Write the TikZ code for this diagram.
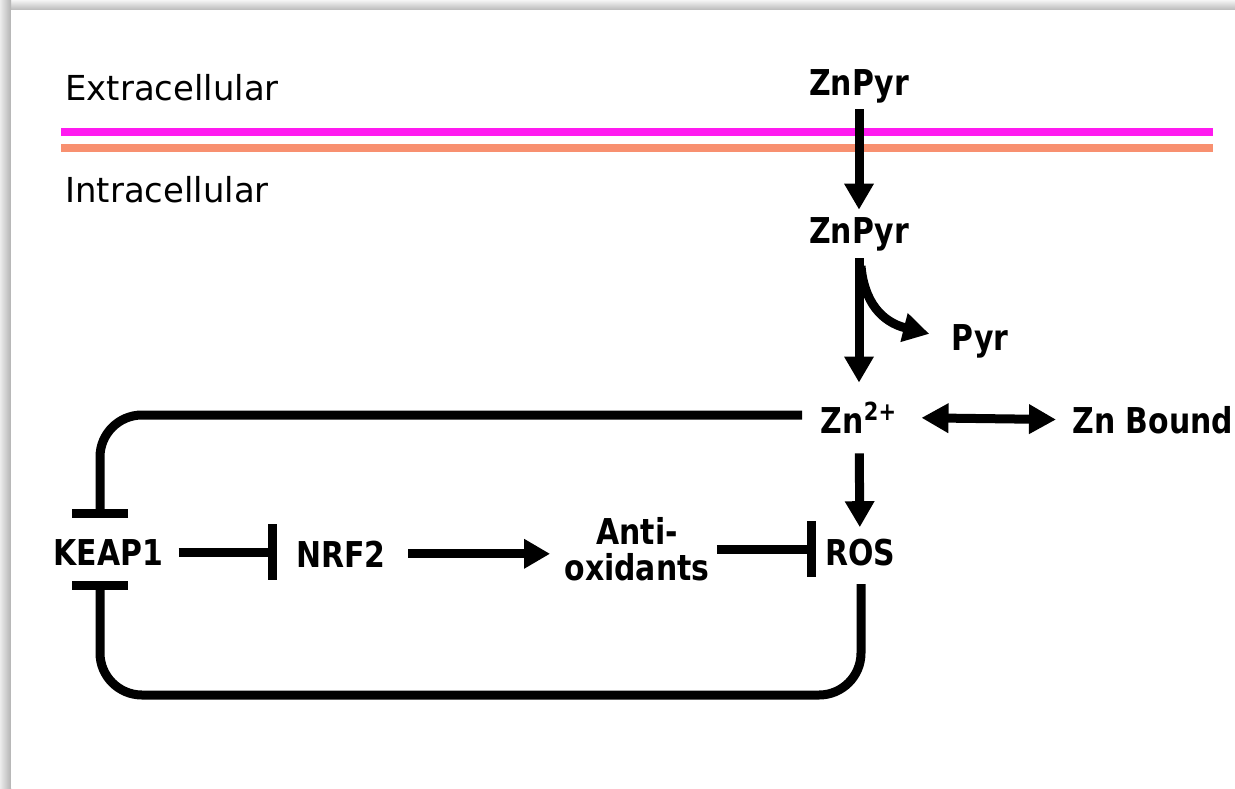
\documentclass[tikz,border=0pt]{standalone}
\usepackage{fontspec}
\setmainfont{DejaVu Sans}[FakeStretch=0.985, BoldFeatures={FakeStretch=0.84}]
\usetikzlibrary{arrows.meta,calc}
\definecolor{memA}{RGB}{255,26,240}
\definecolor{memB}{RGB}{248,144,112}
\begin{document}
\begin{tikzpicture}[x=0.5pt,y=-0.5pt,
  lbl/.style={font=\fontsize{17.2}{18}\selectfont, inner sep=0pt},
  blbl/.style={font=\fontsize{17.8}{18}\selectfont\bfseries, inner sep=0pt, align=center},
  conn/.style={line width=4.5pt},
  act/.style={conn, -{Triangle[length=13pt,width=14pt]}},
  dbl/.style={conn, {Triangle[length=13.5pt,width=14pt]}-{Triangle[length=13.5pt,width=14pt]}},
  inh/.style={conn, -{Bar[width=28pt,line width=4.5pt]}},
  loop/.style={inh, rounded corners=21pt}]
\useasboundingbox (0,0) rectangle (1235,788);
% frame
\shade[top color=gray!8, bottom color=gray!55] (0,0) rectangle (1235,10);
\shade[left color=gray!15, right color=gray!60] (0,0) rectangle (11,788);
\fill[white] (11,10) rectangle (1235,788);
% membrane
\draw[line width=4pt, memA] (61,132) -- (1213,132);
\draw[line width=4pt, memB] (61,148) -- (1213,148);
% labels
\node[lbl, anchor=base west] (extra) at (65,100) {Extracellular};
\node[lbl, anchor=base west] (intra) at (65,202) {Intracellular};
% nodes
\node[blbl, anchor=base] (zp1) at (859,95) {ZnPyr};
\node[blbl, anchor=base] (zp2) at (859,243) {ZnPyr};
\node[blbl, anchor=base] (pyr) at (980,350) {Pyr};
\node[blbl, anchor=base] (zn) at (859,433) {Zn\textsuperscript{2+}};
\node[blbl, anchor=base west] (znb) at (1072,433) {Zn Bound};
\node[blbl, anchor=base] (keap) at (108.5,565) {KEAP1};
\node[blbl, anchor=base] (nrf) at (341,567) {NRF2};
\node[blbl, anchor=north] (anti) at (637,517) {Anti-\\oxidants};
\node[blbl, anchor=base] (ros) at (860,565) {ROS};
% coordinates for connector ends
\coordinate (br) at (861,266);
\coordinate (pyrtip) at ($(pyr.west)+(-22,-7)$);
\coordinate (ztop) at (802,415);
\coordinate (ktop) at (100,518);
\coordinate (rbot) at (861,584);
\coordinate (kbot) at (100,581);
% connectors
\draw[act, shorten <=3pt, shorten >=3.5pt] (zp1) -- (zp2);
\draw[act, shorten <=3.5pt, shorten >=9.5pt] (zp2) -- (zn);
\draw[act] (br) .. controls (864,302) and (882,322) .. (pyrtip);
\draw[dbl, shorten <=12pt, shorten >=8pt] (zn.east) -- (znb.west);
\draw[act, shorten <=10pt, shorten >=5.5pt] (zn) -- (ros);
\draw[inh, shorten <=7.5pt] (keap.east) -- ($(keap.east -| nrf.west)+(-19,0)$);
\draw[act, shorten <=11pt, shorten >=7pt] (nrf.east) -- (nrf.east -| anti.west);
\draw[inh, shorten <=3.5pt] (anti.east) -- ($(anti.east -| ros.west)+(-9,0)$);
\draw[loop] (ztop) -| (ktop);
\draw[loop] (rbot) |- (100,695) -- (kbot);
\end{tikzpicture}
\end{document}
